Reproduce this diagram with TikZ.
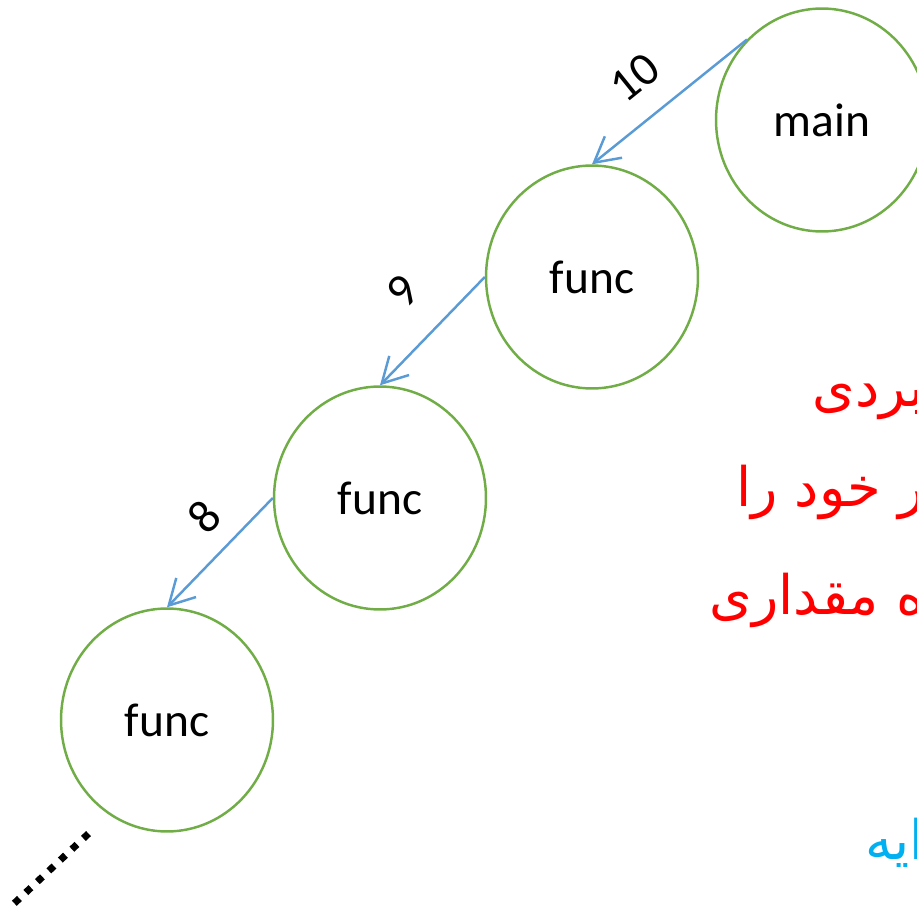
\documentclass[tikz,border=0pt]{standalone}
\usepackage{fontspec}
\setmainfont{Carlito}
\newfontfamily\farsifont[Script=Arabic]{DejaVu Sans}
\TeXXeTstate=1
\usetikzlibrary{arrows.meta, positioning, shapes.geometric}
\definecolor{callblue}{RGB}{91,155,213}
\definecolor{framegreen}{RGB}{112,173,71}
\definecolor{notered}{RGB}{255,0,0}
\definecolor{notecyan}{RGB}{0,176,240}

\begin{document}
\begin{tikzpicture}[x=0.02cm, y=-0.02cm,
  frame/.style={ellipse, draw=framegreen, line width=1.4pt, minimum width=4.24cm, minimum height=4.46cm, font=\fontsize{27}{32}\selectfont},
  call/.style={draw=callblue, line width=1.4pt, -{Straight Barb[length=0.5cm, width=0.55cm]}},
  depth/.style={font=\fontsize{27}{32}\selectfont, sloped, inner sep=0pt},
  note/.style={anchor=east, inner sep=0pt, font=\farsifont\fontsize{31}{36}\selectfont}]
  \useasboundingbox (0,0) rectangle (917,909);
  % Frames
  \node[frame] (main) at (822,120) {main};
  \node[frame] (f1) at (592,277) {func};
  \node[frame] (f2) at (380,498) {func};
  \node[frame] (f3) at (167,720) {func};
  % Calls
  \draw[call] (main.133) -- (f1.north) node[depth, pos=0.56, above=0.48cm] {10};
  \draw[call] (f1.west) -- (f2.north) node[depth, pos=0.445, above=0.64cm] {9};
  \draw[call] (f2.west) -- (f3.north) node[depth, pos=0.4, above=0.38cm] {8};
  % More calls
  \coordinate (more) at (88.5,833.6);
  \coordinate (moreend) at (14.2,903.4);
  \draw[line width=0.14cm, dash pattern=on 0.14cm off 0.176cm] (more) -- (moreend);
  % Notes
  \node[note, text=notered] (n1) at (925,402) {\beginR بردی\endR};
  \node[note, text=notered] (n2) at (925,492) {\beginR ر خود را\endR};
  \node[note, text=notered] (n3) at (925,600) {\beginR ه مقداری\endR};
  \node[note, text=notecyan] (n4) at (925,843) {\beginR ایه\endR};
\end{tikzpicture}
\end{document}
